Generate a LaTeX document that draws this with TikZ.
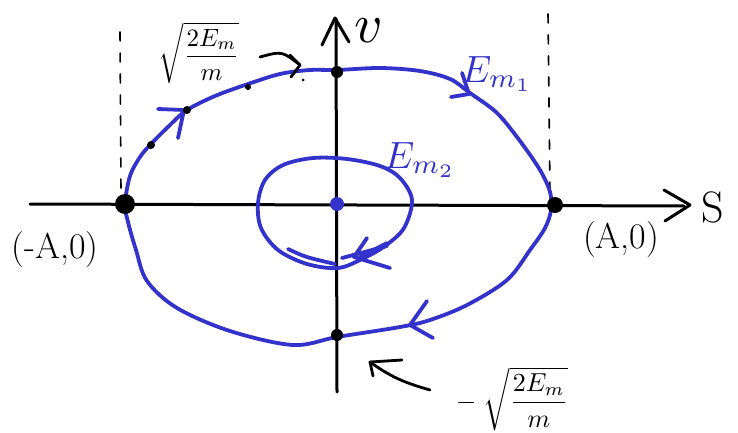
\documentclass[tikz,border=0pt]{standalone}
\usepackage{amsmath}
\usepackage{graphicx}
\definecolor{pen}{RGB}{51,51,204}
\begin{document}
\begin{tikzpicture}[x=1pt,y=-1pt, line cap=round, line join=round,
  axis/.style={line width=3pt, black},
  orbit/.style={line width=3.8pt, pen},
  guide/.style={line width=1.6pt, black, dash pattern=on 9pt off 12pt},
  inkarrow/.style={line width=2.8pt, black},
  dotmark/.style={circle, fill=black, inner sep=0pt, minimum size=#1},
  lbl/.style={inner sep=0pt, font=\fontsize{36}{38}\selectfont}]
\useasboundingbox (0,0) rectangle (738,433);

% axes
\coordinate (xs) at (30,204);
\coordinate (xe) at (684,206);
\coordinate (ys) at (337,392);
\coordinate (ye) at (336,19);
\draw[axis] (xs) -- (xe);
\draw[axis] (664,190) -- (690,205) -- (665,221);
\draw[axis] (ys) -- (ye);
\draw[axis] (322,45) -- (335,18) -- (349,42);

% dashed guides
\draw[guide] (120,32) -- (121,192);
\draw[guide] (548,14) -- (550,192);

% big orbit
\draw[orbit] plot[smooth cycle, tension=0.55] coordinates {
 (125,204) (130,176) (140,157) (151,144) (170,125) (187,110) (215,96)
 (248,84) (280,74) (310,70) (337,70) (380,68) (420,71) (450,79)
 (470,93) (497,113) (520,141) (540,170) (550,192) (551,210) (545,228)
 (530,250) (507,280) (467,305) (430,320) (400,327) (337,337) (293,345)
 (230,331) (177,308) (147,281) (136,250) (128,222)};
\draw[orbit] (158,109) -- (184,110) -- (178,138);
\draw[orbit] (462,73) -- (469,94) -- (451,97);
\draw[orbit] (427,301) -- (410,325) -- (433,338);

% inner orbit
\draw[orbit] plot[smooth cycle, tension=0.55] coordinates {
 (412,200) (404,228) (385,246) (362,259) (338,268) (307,264) (278,250)
 (261,228) (258,203) (265,180) (283,165) (313,158) (347,159) (380,166)
 (400,178)};
\draw[orbit] (288,249) .. controls (305,257) .. (335,264);
\draw[orbit] (342,258) -- (387,246);
\draw[orbit] (367,238) -- (354,257) -- (390,268);
\draw[orbit] (387,243) -- (360,257);

% points
\node[dotmark=20pt] (pl) at (125,204) {};
\node[dotmark=16pt] (pr) at (555,205) {};
\node[dotmark=12pt] (pt) at (337,72) {};
\node[dotmark=12pt] (pb) at (337,335) {};
\node[dotmark=8pt] (p1) at (151,145) {};
\node[dotmark=8pt] (p2) at (187,110) {};
\node[dotmark=6pt] (p3) at (248,87) {};
\node[dotmark=3pt] (p4) at (303,80) {};
\node[dotmark=14pt, fill=pen] (pc) at (337,204) {};

% labels
\node[lbl] (lA) at (55,250) {(-A,0)};
\node[lbl] (rA) at (621,240) {(A,0)};
\node[inner sep=0pt, font=\fontsize{44}{46}\selectfont] (S) at (713,207) {S};
\node[inner sep=0pt] (v) at (369,31) {\scalebox{5.5}{$v$}};
\node[inner sep=0pt, text=pen] (E1) at (497,74) {\scalebox{3.8}{$E_{m_1}$}};
\node[inner sep=0pt, text=pen] (E2) at (420,160) {\scalebox{3.8}{$E_{m_2}$}};
\node[inner sep=0pt] (vt) at (199,53) {\scalebox{2.5}{$\sqrt{\dfrac{2E_m}{m}}$}};
\node[inner sep=0pt] (vb) at (512,399) {\scalebox{2.6}{$-\;\sqrt{\dfrac{2E_m}{m}}$}};

% pointer arrows
\draw[inkarrow] (260,57) .. controls (282,51) .. (300,65);
\draw[inkarrow] (290,55) -- (300,65) -- (291,77);
\draw[inkarrow] (370,362) -- (402,360);
\draw[inkarrow] (370,362) -- (373,376);
\draw[inkarrow] (370,362) .. controls (395,380) and (410,384) .. (430,390);
\end{tikzpicture}
\end{document}
